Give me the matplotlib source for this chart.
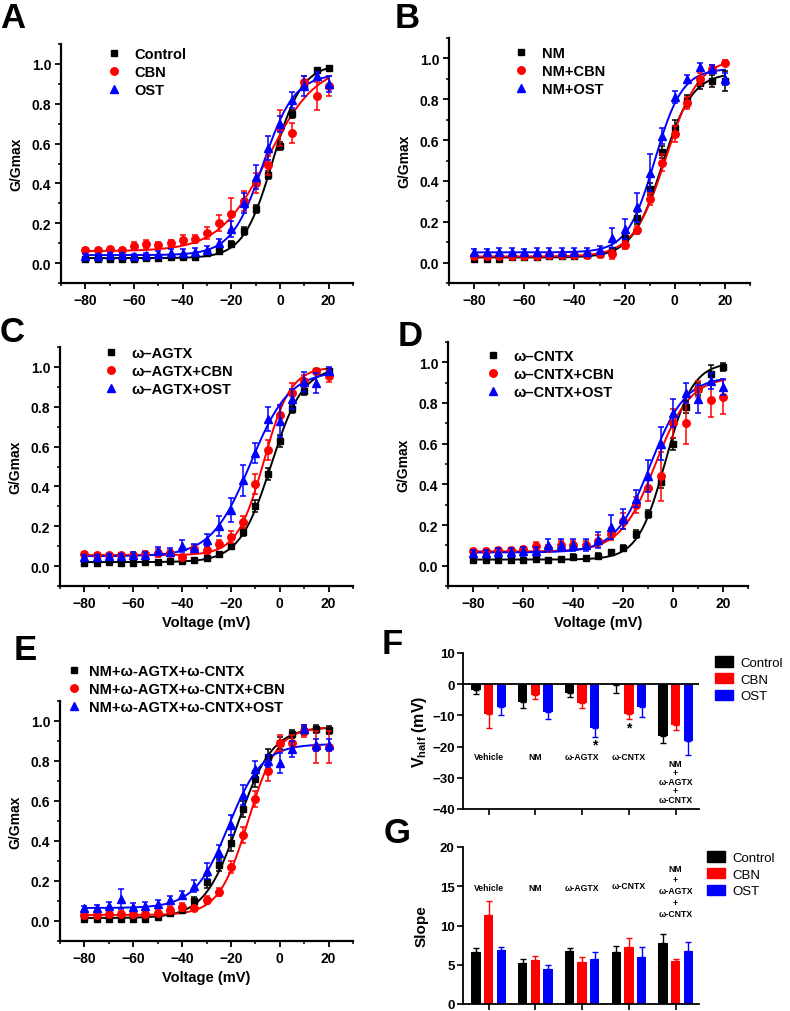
import numpy as np
import matplotlib
matplotlib.use('Agg')
import matplotlib.pyplot as plt
from matplotlib.patches import Patch
from matplotlib.ticker import MultipleLocator

plt.rcParams['font.family'] = ['Liberation Sans', 'DejaVu Sans']
plt.rcParams['font.weight'] = 'bold'
plt.rcParams['mathtext.fontset'] = 'custom'
plt.rcParams['mathtext.rm'] = 'Liberation Sans:bold'
plt.rcParams['mathtext.default'] = 'rm'

# voltagens dos passos (mV)
voltage = [-80, -75, -70, -65, -60, -55, -50, -45, -40, -35, -30,
           -25, -20, -15, -10, -5, 0, 5, 10, 15, 20]

# Painel A
a_labels = ['Control', 'CBN', 'OST']
a_ctrl = [0.02, 0.02, 0.02, 0.02, 0.02, 0.025, 0.025, 0.03, 0.03, 0.03, 0.05,
          0.06, 0.095, 0.16, 0.27, 0.44, 0.59, 0.75, 0.89, 0.97, 0.98]
a_ctrl_err = [0.01, 0.01, 0.01, 0.01, 0.01, 0.01, 0.01, 0.01, 0.01, 0.01, 0.01,
              0.01, 0.015, 0.02, 0.02, 0.02, 0.02, 0.02, 0.02, 0.01, 0.01]
a_cbn = [0.065, 0.065, 0.07, 0.065, 0.085, 0.095, 0.09, 0.1, 0.115, 0.12, 0.15,
         0.2, 0.245, 0.31, 0.40, 0.49, 0.68, 0.655, 0.91, 0.84, 0.89]
a_cbn_err = [0.01, 0.01, 0.01, 0.01, 0.02, 0.02, 0.015, 0.015, 0.025, 0.02, 0.03,
             0.04, 0.08, 0.05, 0.05, 0.05, 0.09, 0.05, 0.03, 0.07, 0.05]
a_ost = [0.035, 0.035, 0.04, 0.04, 0.035, 0.04, 0.045, 0.05, 0.05, 0.055, 0.065,
         0.10, 0.17, 0.30, 0.43, 0.58, 0.70, 0.82, 0.89, 0.94, 0.90]
a_ost_err = [0.01, 0.01, 0.01, 0.01, 0.01, 0.01, 0.015, 0.02, 0.02, 0.02, 0.02,
             0.02, 0.04, 0.05, 0.06, 0.06, 0.04, 0.04, 0.05, 0.02, 0.04]
# parametros do ajuste de Boltzmann: base, topo, V1/2, inclinacao
a_fits = [(0.025, 1.0, -3.0, 6.0), (0.06, 1.0, -5.0, 10.0), (0.04, 0.95, -7.0, 6.5)]

# Painel B
b_labels = ['NM', 'NM+CBN', 'NM+OST']
b_ctrl = [0.02, 0.02, 0.02, 0.025, 0.025, 0.025, 0.03, 0.03, 0.03, 0.035, 0.04,
          0.06, 0.12, 0.22, 0.36, 0.54, 0.66, 0.79, 0.88, 0.89, 0.89]
b_ctrl_err = [0.01, 0.01, 0.01, 0.01, 0.01, 0.01, 0.01, 0.01, 0.01, 0.01, 0.01,
              0.01, 0.02, 0.03, 0.03, 0.03, 0.04, 0.03, 0.03, 0.03, 0.05]
b_cbn = [0.03, 0.03, 0.03, 0.03, 0.03, 0.03, 0.035, 0.035, 0.035, 0.035, 0.04,
         0.04, 0.085, 0.16, 0.31, 0.49, 0.63, 0.78, 0.90, 0.95, 0.98]
b_cbn_err = [0.01, 0.01, 0.01, 0.01, 0.01, 0.01, 0.01, 0.01, 0.01, 0.01, 0.01,
             0.02, 0.02, 0.02, 0.03, 0.04, 0.04, 0.03, 0.03, 0.02, 0.01]
b_ost = [0.05, 0.05, 0.05, 0.05, 0.05, 0.05, 0.05, 0.05, 0.05, 0.05, 0.06,
         0.12, 0.165, 0.27, 0.44, 0.62, 0.81, 0.90, 0.96, 0.95, 0.90]
b_ost_err = [0.015, 0.015, 0.02, 0.02, 0.015, 0.02, 0.02, 0.02, 0.02, 0.02, 0.02,
             0.05, 0.05, 0.07, 0.09, 0.04, 0.03, 0.02, 0.02, 0.02, 0.03]
b_fits = [(0.025, 0.93, -5.0, 6.0), (0.03, 1.0, -3.5, 6.5), (0.05, 0.95, -8.0, 5.5)]

# Painel C
c_labels = ['\u03c9\u2013AGTX', '\u03c9\u2013AGTX+CBN', '\u03c9\u2013AGTX+OST']
c_ctrl = [0.015, 0.015, 0.02, 0.015, 0.015, 0.02, 0.02, 0.025, 0.025, 0.03, 0.04,
          0.06, 0.10, 0.17, 0.30, 0.46, 0.63, 0.79, 0.88, 0.98, 0.98]
c_ctrl_err = [0.01, 0.01, 0.01, 0.01, 0.01, 0.01, 0.01, 0.01, 0.01, 0.01, 0.01,
              0.01, 0.01, 0.02, 0.03, 0.03, 0.03, 0.02, 0.02, 0.01, 0.01]
c_cbn = [0.06, 0.055, 0.055, 0.055, 0.055, 0.06, 0.065, 0.065, 0.045, 0.085, 0.08,
         0.11, 0.145, 0.22, 0.41, 0.585, 0.76, 0.87, 0.93, 0.98, 0.955]
c_cbn_err = [0.01, 0.01, 0.01, 0.01, 0.01, 0.015, 0.02, 0.015, 0.01, 0.02, 0.02,
             0.02, 0.03, 0.03, 0.05, 0.05, 0.05, 0.05, 0.03, 0.01, 0.03]
c_ost = [0.045, 0.045, 0.05, 0.05, 0.055, 0.055, 0.075, 0.07, 0.10, 0.09, 0.13,
         0.20, 0.28, 0.43, 0.57, 0.74, 0.73, 0.84, 0.925, 0.92, 0.98]
c_ost_err = [0.01, 0.01, 0.01, 0.01, 0.015, 0.015, 0.02, 0.02, 0.03, 0.02, 0.03,
             0.05, 0.06, 0.08, 0.05, 0.06, 0.08, 0.05, 0.05, 0.05, 0.02]
c_fits = [(0.02, 1.0, -3.5, 6.5), (0.055, 1.0, -6.5, 5.5), (0.05, 0.98, -12.0, 8.0)]

# Painel D
d_labels = ['\u03c9\u2013CNTX', '\u03c9\u2013CNTX+CBN', '\u03c9\u2013CNTX+OST']
d_ctrl = [0.03, 0.03, 0.03, 0.03, 0.03, 0.033, 0.03, 0.035, 0.045, 0.04, 0.05,
          0.067, 0.085, 0.155, 0.255, 0.41, 0.60, 0.78, 0.87, 0.945, 0.975]
d_ctrl_err = [0.01, 0.01, 0.01, 0.01, 0.01, 0.01, 0.01, 0.01, 0.01, 0.01, 0.01,
              0.01, 0.015, 0.02, 0.02, 0.03, 0.03, 0.03, 0.03, 0.04, 0.02]
d_cbn = [0.07, 0.07, 0.075, 0.075, 0.08, 0.095, 0.085, 0.10, 0.10, 0.10, 0.12,
         0.155, 0.22, 0.30, 0.38, 0.44, 0.70, 0.70, 0.87, 0.815, 0.83]
d_cbn_err = [0.01, 0.01, 0.01, 0.01, 0.01, 0.02, 0.015, 0.02, 0.02, 0.02, 0.03,
             0.03, 0.04, 0.04, 0.06, 0.12, 0.07, 0.10, 0.04, 0.085, 0.085]
d_ost = [0.06, 0.06, 0.065, 0.065, 0.07, 0.07, 0.10, 0.10, 0.10, 0.10, 0.125,
         0.19, 0.23, 0.33, 0.44, 0.60, 0.75, 0.85, 0.82, 0.91, 0.88]
d_ost_err = [0.015, 0.015, 0.02, 0.02, 0.02, 0.02, 0.03, 0.03, 0.03, 0.03, 0.04,
             0.06, 0.05, 0.04, 0.08, 0.08, 0.07, 0.05, 0.07, 0.04, 0.04]
d_fits = [(0.03, 1.0, -3.0, 5.5), (0.07, 0.93, -7.0, 7.0), (0.065, 0.93, -9.0, 7.0)]

# Painel E
e_labels = ['NM+\u03c9-AGTX+\u03c9-CNTX', 'NM+\u03c9-AGTX+\u03c9-CNTX+CBN',
            'NM+\u03c9-AGTX+\u03c9-CNTX+OST']
e_ctrl = [0.012, 0.012, 0.012, 0.012, 0.012, 0.012, 0.02, 0.04, 0.055, 0.10, 0.195,
          0.28, 0.39, 0.56, 0.71, 0.82, 0.89, 0.935, 0.95, 0.96, 0.955]
e_ctrl_err = [0.01, 0.01, 0.01, 0.01, 0.01, 0.01, 0.01, 0.01, 0.01, 0.02, 0.03,
              0.03, 0.04, 0.04, 0.04, 0.04, 0.03, 0.02, 0.02, 0.02, 0.02]
e_cbn = [0.03, 0.03, 0.035, 0.035, 0.035, 0.035, 0.04, 0.055, 0.07, 0.065, 0.105,
         0.145, 0.27, 0.43, 0.61, 0.75, 0.89, 0.89, 0.95, 0.87, 0.87]
e_cbn_err = [0.01, 0.01, 0.015, 0.015, 0.015, 0.015, 0.015, 0.02, 0.02, 0.01, 0.02,
             0.02, 0.03, 0.04, 0.04, 0.05, 0.04, 0.04, 0.03, 0.08, 0.08]
e_ost = [0.065, 0.065, 0.075, 0.11, 0.07, 0.075, 0.085, 0.105, 0.13, 0.175, 0.25,
         0.34, 0.48, 0.63, 0.76, 0.80, 0.79, 0.86, 0.96, 0.88, 0.88]
e_ost_err = [0.01, 0.015, 0.02, 0.05, 0.02, 0.02, 0.02, 0.02, 0.02, 0.03, 0.04,
             0.04, 0.05, 0.05, 0.04, 0.03, 0.05, 0.04, 0.02, 0.03, 0.03]
e_fits = [(0.015, 0.97, -17.0, 7.0), (0.03, 0.97, -13.0, 6.0), (0.065, 0.885, -21.0, 7.0)]

# Paineis F e G (barras)
groups = ['Vehicle', 'NM', '\u03c9-AGTX', '\u03c9-CNTX', 'NM\n+\n\u03c9-AGTX\n+\n\u03c9-CNTX']
bar_labels = ['Control', 'CBN', 'OST']
vhalf_ctrl = [-1.9, -5.7, -2.9, -0.3, -16.5]
vhalf_ctrl_err = [1.3, 1.8, 1.1, 2.6, 2.5]
vhalf_cbn = [-9.7, -3.4, -6.1, -9.5, -13.2]
vhalf_cbn_err = [4.3, 1.5, 1.5, 1.8, 1.6]
vhalf_ost = [-7.3, -8.9, -14.0, -7.3, -18.1]
vhalf_ost_err = [2.6, 2.2, 2.9, 3.1, 4.5]

slope_ctrl = [6.65, 5.28, 6.7, 6.64, 7.75]
slope_ctrl_err = [0.45, 0.5, 0.4, 0.7, 1.2]
slope_cbn = [11.3, 5.6, 5.3, 7.2, 5.45]
slope_cbn_err = [1.8, 0.5, 0.65, 1.25, 0.3]
slope_ost = [6.85, 4.5, 5.7, 6.0, 6.7]
slope_ost_err = [0.35, 0.5, 0.9, 1.2, 1.2]

colors = ['black', '#ff0000', '#0000ff']
markers = ['s', 'o', '^']
msizes = [4.8, 5.4, 5.6]

W, H = 790, 1012
fig = plt.figure(figsize=(W / 100, H / 100), dpi=100)


def px_axes(l, t, r, b):
    # cria eixos a partir de coordenadas em pixels
    return fig.add_axes([l / W, 1 - b / H, (r - l) / W, (b - t) / H])


def boltzmann(v, bottom, top, v50, k):
    return bottom + (top - bottom) / (1 + np.exp((v50 - v) / k))


def plot_gv(ax, series, errs, fits, labels, leg_xy, xlabel=True, textpad=0.9):
    vfit = np.linspace(-80, 20, 300)
    handles = []
    for i in range(3):
        ax.plot(vfit, boltzmann(vfit, *fits[i]), color=colors[i], lw=1.4, zorder=2)
    for i in range(3):
        ax.errorbar(voltage, series[i], yerr=errs[i], fmt='none', ecolor=colors[i],
                    elinewidth=1.1, capsize=2.2, capthick=1.1, zorder=3 + i)
        h, = ax.plot(voltage, series[i], ls='none', marker=markers[i], ms=msizes[i],
                     color=colors[i], zorder=3 + i)
        handles.append(h)
    ax.set_xlim(-90, 30)
    ax.set_ylim(-0.1, 1.1)
    ax.set_xticks([-80, -60, -40, -20, 0, 20])
    ax.xaxis.set_minor_locator(MultipleLocator(10))
    ax.set_yticks([0.0, 0.2, 0.4, 0.6, 0.8, 1.0])
    ax.yaxis.set_minor_locator(MultipleLocator(0.1))
    ax.tick_params(which='major', direction='out', length=4, width=1.3, labelsize=10, pad=3)
    ax.tick_params(which='minor', direction='out', length=2.5, width=1.1)
    for s in ['top', 'right']:
        ax.spines[s].set_visible(False)
    for s in ['left', 'bottom']:
        ax.spines[s].set_linewidth(1.6)
    ax.set_ylabel('G/Gmax', fontsize=10, fontweight='bold', labelpad=6)
    if xlabel:
        ax.set_xlabel('Voltage (mV)', fontsize=10.5, fontweight='bold', labelpad=4)
    ax.legend(handles, labels, loc='upper left', bbox_to_anchor=(leg_xy[0] / W, 1 - leg_xy[1] / H),
              bbox_transform=fig.transFigure, frameon=False, fontsize=10.5,
              handlelength=1.0, handletextpad=textpad, labelspacing=0.28, borderpad=0,
              borderaxespad=0, markerscale=1.0)


def plot_bars(ax, vals, errs, ylim, yticks, down, label_pos, leg_xy, spacing):
    x = np.arange(len(groups))
    offsets = [-0.27, 0.0, 0.27]
    for i in range(3):
        e = np.array(errs[i])
        yerr = [e, np.zeros_like(e)] if down else [np.zeros_like(e), e]
        ax.bar(x + offsets[i], vals[i], width=0.2, color=colors[i], zorder=2)
        ax.errorbar(x + offsets[i], vals[i], yerr=yerr, fmt='none', ecolor=colors[i],
                    elinewidth=1.0, capsize=2.5, capthick=1.0, zorder=1)
    ax.set_xlim(-0.55, 4.5)
    ax.set_ylim(*ylim)
    ax.set_yticks(yticks)
    ax.set_xticks(x)
    ax.set_xticklabels([])
    ax.tick_params(direction='out', length=4, width=1.2, labelsize=9.5, pad=2)
    for s in ['top', 'right']:
        ax.spines[s].set_visible(False)
    for s in ['left', 'bottom']:
        ax.spines[s].set_linewidth(1.3)
    for gi, g in enumerate(groups):
        y = label_pos[gi]
        ax.text(gi, y, g, ha='center', va='center', fontsize=6.2, fontweight='bold',
                linespacing=spacing)
    ax.legend([Patch(color=c) for c in colors], bar_labels, loc='upper left',
              bbox_to_anchor=(leg_xy[0] / W, 1 - leg_xy[1] / H), bbox_transform=fig.transFigure,
              frameon=False, prop={'weight': 'normal', 'size': 9.5},
              handlelength=1.35, handleheight=0.85, handletextpad=0.6, labelspacing=0.3,
              borderpad=0, borderaxespad=0)


# Paineis de curvas G-V
axA = px_axes(61, 45, 353, 284)
plot_gv(axA, [a_ctrl, a_cbn, a_ost], [a_ctrl_err, a_cbn_err, a_ost_err], a_fits,
        a_labels, (107, 48), xlabel=False)
axB = px_axes(449, 39, 750, 284)
plot_gv(axB, [b_ctrl, b_cbn, b_ost], [b_ctrl_err, b_cbn_err, b_ost_err], b_fits,
        b_labels, (514, 47), xlabel=False)
axC = px_axes(60, 348, 353, 587)
plot_gv(axC, [c_ctrl, c_cbn, c_ost], [c_ctrl_err, c_cbn_err, c_ost_err], c_fits,
        c_labels, (104, 347))
axD = px_axes(448, 343, 748, 587)
plot_gv(axD, [d_ctrl, d_cbn, d_ost], [d_ctrl_err, d_cbn_err, d_ost_err], d_fits,
        d_labels, (486, 350))
axE = px_axes(60, 702, 353, 942)
plot_gv(axE, [e_ctrl, e_cbn, e_ost], [e_ctrl_err, e_cbn_err, e_ost_err], e_fits,
        e_labels, (67, 665), textpad=0.5)

# Painel F: V half
axF = px_axes(463, 654, 699, 810)
plot_bars(axF, [vhalf_ctrl, vhalf_cbn, vhalf_ost], [vhalf_ctrl_err, vhalf_cbn_err, vhalf_ost_err],
          (-40, 10), [-40, -30, -20, -10, 0, 10], True,
          [-23.3, -23.3, -23.1, -23.1, -31.3], (715, 657), 1.0)
axF.axhline(0, color='black', lw=1.3, zorder=3)
axF.set_ylabel('V$_{half}$ (mV)', fontsize=11.5, fontweight='bold', labelpad=2)
axF.text(2.27, -19.3, '*', ha='center', va='center', fontsize=10)
axF.text(3.0, -13.8, '*', ha='center', va='center', fontsize=10)

# Painel G: slope
axG = px_axes(463, 848, 699, 1005)
plot_bars(axG, [slope_ctrl, slope_cbn, slope_ost], [slope_ctrl_err, slope_cbn_err, slope_ost_err],
          (0, 20), [0, 5, 10, 15, 20], False,
          [14.9, 14.9, 14.9, 15.1, 14.4], (707, 852), 1.3)
axG.set_ylabel('Slope', fontsize=11, fontweight='bold', labelpad=8)

# letras dos paineis
for letter, x, y in [('A', 0, 2), ('B', 395, 2), ('C', 0, 316), ('D', 398, 320),
                     ('E', 14, 634), ('F', 382, 628), ('G', 384, 817)]:
    fig.text(x / W, 1 - y / H, letter, fontsize=25, fontweight='bold', ha='left', va='top')

fig.savefig('out.png', dpi=100)
